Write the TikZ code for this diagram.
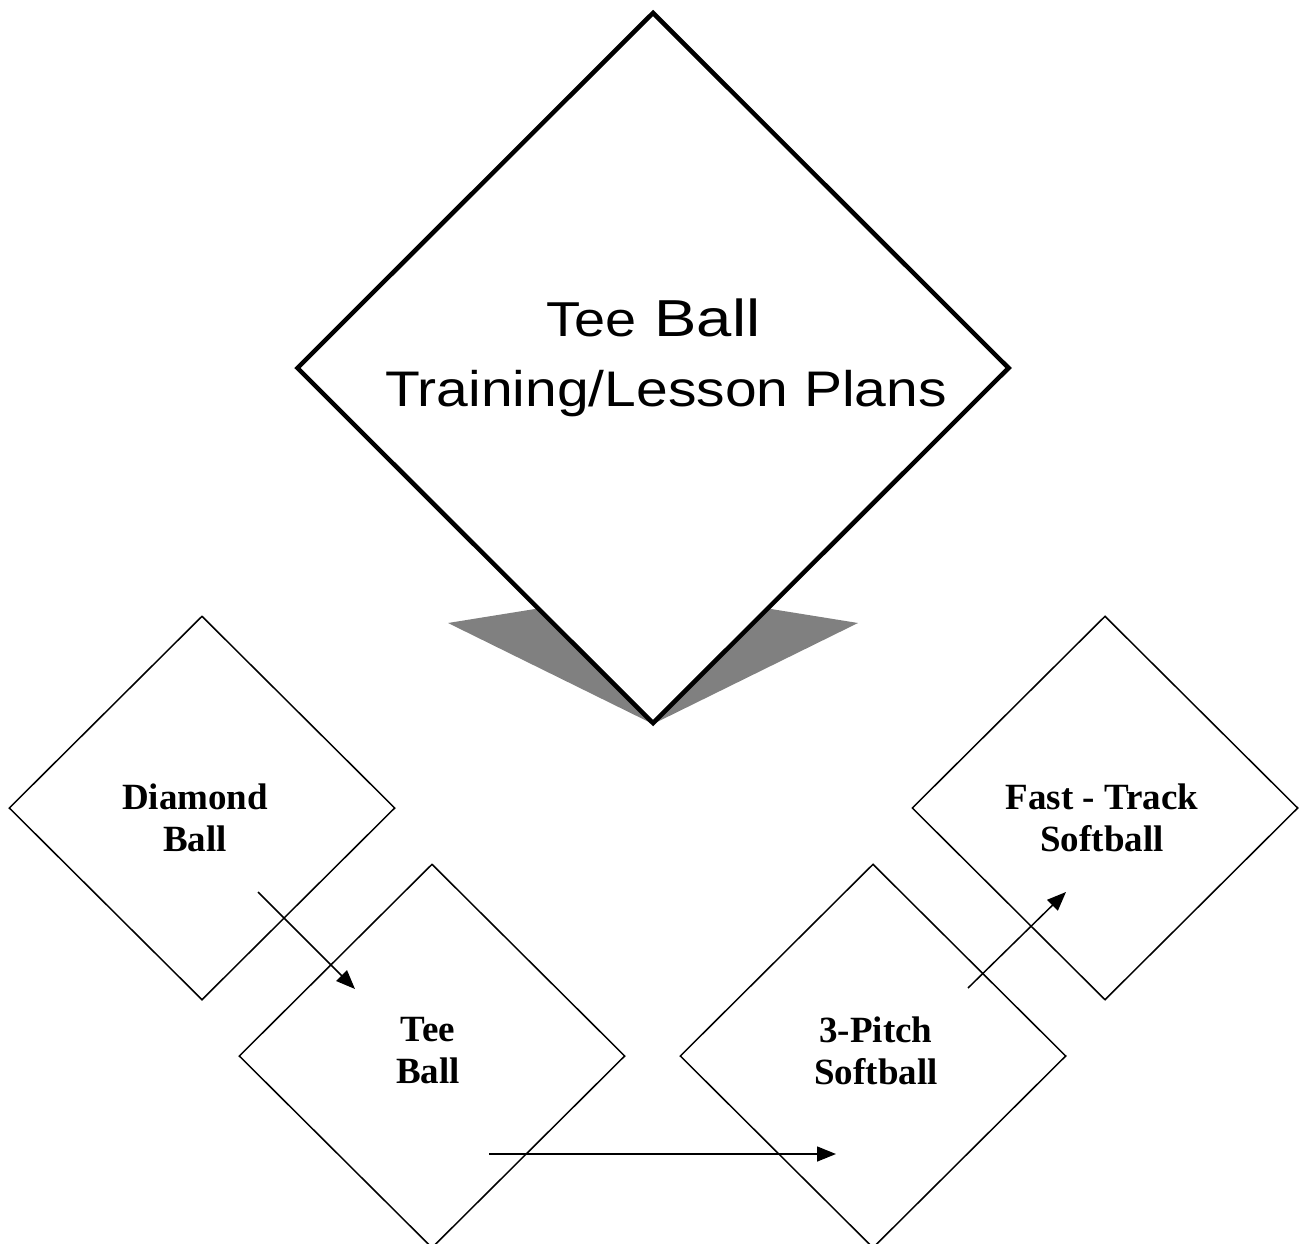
\documentclass[tikz,border=0pt]{standalone}
\usepackage{fontspec}
\setmainfont{Liberation Serif}
\newfontfamily\titlefont{Liberation Sans}
\usetikzlibrary{arrows.meta,shapes.geometric}
\begin{document}
\begin{tikzpicture}[x=1pt,y=-1pt,
  smalld/.style={diamond,draw=black,line width=1.5pt,aspect=1,inner sep=0pt,
    minimum width=386pt,minimum height=384pt},
  bigd/.style={diamond,draw=black,fill=white,line width=4.5pt,aspect=1,inner sep=0pt,
    minimum width=713pt,minimum height=712pt},
  lbl/.style={align=center,inner sep=0pt,font=\bfseries\fontsize{37}{42}\selectfont},
  conn/.style={line width=1.5pt,-{Triangle[length=19pt,width=15pt]}}]
\clip (0,0) rectangle (1302,1244);
\useasboundingbox (0,0) rectangle (1302,1244);
% shadow
\fill[black!50] (448,623) -- (653,590) -- (858,623) -- (653,724) -- cycle;
% big diamond
\node[bigd] (main) at (653,368) {};
\node[anchor=base,inner sep=0pt] (title1) at (653.5,336)
  {\titlefont\scalebox{1.14}[1]{\fontsize{49}{54}\selectfont Tee}\hspace{18pt}\scalebox{1.22}[1]{\fontsize{52}{56}\selectfont Ball}};
\node[anchor=base,inner sep=0pt] (title2) at (666,406)
  {\titlefont\scalebox{1.14}[1]{\fontsize{50}{56}\selectfont Training/Lesson Plans}};
% small diamonds
\node[smalld] (dia) at (202,808) {};
\node[smalld] (tee) at (432,1056) {};
\node[smalld] (pitch) at (873,1056) {};
\node[smalld] (fast) at (1105,808) {};
% labels
\node[lbl] (diaT) at (195,818) {Diamond\\Ball};
\node[lbl] (teeT) at (428,1051) {Tee\\Ball};
\node[lbl] (pitchT) at (876,1051) {3-Pitch\\Softball};
\node[lbl] (fastT) at (1102,818) {Fast - Track\\Softball};
% arrows
\coordinate (a1s) at (258,892);
\coordinate (a1e) at (355,989);
\coordinate (a2s) at (489,1154);
\coordinate (a2e) at (836,1154);
\coordinate (a3s) at (968,988);
\coordinate (a3e) at (1066,892);
\draw[conn] (a1s) -- (a1e);
\draw[conn] (a2s) -- (a2e);
\draw[conn] (a3s) -- (a3e);
\end{tikzpicture}
\end{document}
